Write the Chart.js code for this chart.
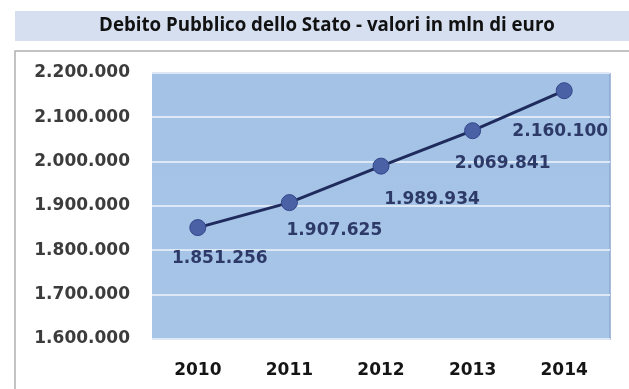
<!DOCTYPE html>
<html>
<head>
<meta charset="utf-8">
<script src="https://cdn.jsdelivr.net/npm/chart.js@4.4.1/dist/chart.umd.min.js"></script>
<style>
  html, body { margin: 0; padding: 0; background: #fff; }
</style>
</head>
<body>
<canvas id="debito" width="629" height="389"></canvas>
<script>
const titleText = 'Debito Pubblico dello Stato - valori in mln di euro'
const years = ['2010', '2011', '2012', '2013', '2014']
const debito = [1851256, 1907625, 1989934, 2069841, 2160100]
const yMin = 1600000
const yMax = 2200000
const yStep = 100000

// label offsets (dx, dy) from each point, as in the original picture
const labelOffsets = [[22, 31], [45, 28], [51, 33], [30, 33], [-4, 41]]

const titleFont = 'bold 18.7px "Open Sans", sans-serif'

function formatIt(n) {
  return String(Math.round(n)).replace(/\B(?=(\d{3})+(?!\d))/g, '.')
}

const boldFont = { family: '"DejaVu Sans", sans-serif', size: 17, weight: 'bold' }

// title bar, frame and blue plot background
const backdrop = {
  id: 'backdrop',
  beforeDraw(chart) {
    const c = chart.ctx
    const a = chart.chartArea
    c.save()
    c.fillStyle = '#d5dfef'
    c.fillRect(15, 11, chart.width - 15, 30)
    c.fillStyle = '#111'
    c.font = titleFont
    c.textAlign = 'center'
    c.textBaseline = 'middle'
    c.fillText(titleText, 327, 26)

    c.strokeStyle = '#b0b0b0'
    c.lineWidth = 1.5
    c.beginPath()
    c.moveTo(15, chart.height)
    c.lineTo(15, 51)
    c.lineTo(chart.width, 51)
    c.stroke()

    const g = c.createLinearGradient(0, a.top, 0, a.bottom)
    g.addColorStop(0, '#a3c2e5')
    g.addColorStop(1, '#a7c5e7')
    c.fillStyle = g
    c.fillRect(a.left, a.top, a.right - a.left, a.bottom - a.top)
    c.strokeStyle = '#8aa8cf'
    c.lineWidth = 1.5
    c.beginPath()
    c.moveTo(a.right, a.top)
    c.lineTo(a.right, a.bottom)
    c.lineTo(a.left, a.bottom)
    c.stroke()
    c.restore()
  }
}

const valueLabels = {
  id: 'valueLabels',
  afterDatasetsDraw(chart) {
    const c = chart.ctx
    const meta = chart.getDatasetMeta(0)
    c.save()
    c.font = 'bold 17px "DejaVu Sans", sans-serif'
    c.fillStyle = '#2d3a68'
    c.textAlign = 'center'
    c.textBaseline = 'middle'
    meta.data.forEach((pt, i) => {
      const off = labelOffsets[i]
      c.fillText(formatIt(debito[i]), pt.x + off[0], pt.y + off[1])
    })
    c.restore()
  }
}

function drawChart() {
  new Chart(document.getElementById('debito'), {
    type: 'line',
    data: {
      labels: years,
      datasets: [
        {
          data: debito,
          borderColor: '#1f2b5c',
          borderWidth: 3,
          pointRadius: 8,
          pointBackgroundColor: '#4a61a5',
          pointBorderColor: '#33478a',
          pointBorderWidth: 1,
          tension: 0
        }
      ]
    },
    options: {
      responsive: false,
      animation: false,
      devicePixelRatio: 1,
      layout: { padding: { top: 73, left: 15, right: 19, bottom: 0 } },
      plugins: {
        legend: { display: false },
        title: { display: false },
        tooltip: { enabled: false }
      },
      scales: {
        x: {
          offset: true,
          grid: { display: false, drawTicks: false },
          border: { display: false },
          ticks: { font: boldFont, color: '#151515', padding: 21 },
          afterFit(scale) { scale.height = 50 }
        },
        y: {
          min: yMin,
          max: yMax,
          grid: { color: '#dde8f6', lineWidth: 2, drawTicks: false },
          border: { display: false },
          ticks: {
            stepSize: yStep,
            font: boldFont,
            color: '#3c3c3c',
            padding: 22,
            callback: v => formatIt(v)
          },
          afterFit(scale) { scale.width = 137 }
        }
      }
    },
    plugins: [backdrop, valueLabels]
  })
}

Promise.all([
  document.fonts.load(titleFont),
  document.fonts.load('bold 17px "DejaVu Sans"')
]).then(drawChart, drawChart)
</script>
</body>
</html>
